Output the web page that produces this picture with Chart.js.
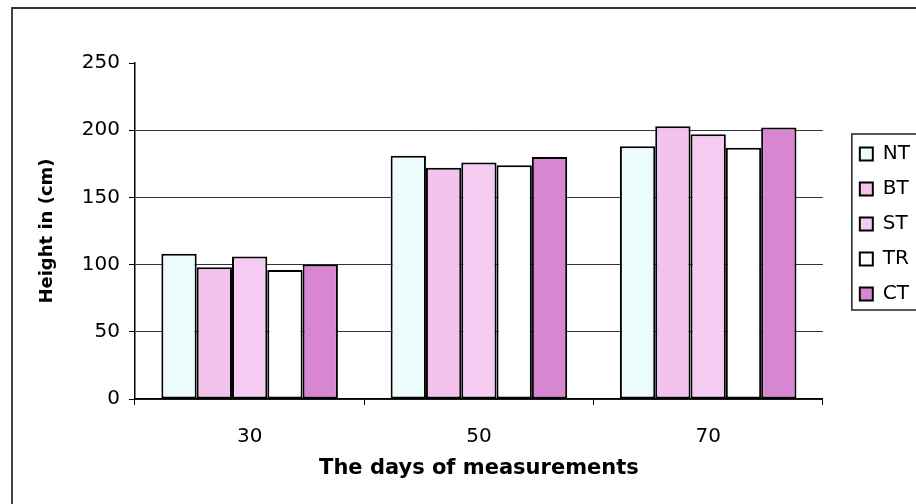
<!DOCTYPE html>
<html>
<head>
<meta charset="utf-8">
<script src="https://cdn.jsdelivr.net/npm/chart.js@4.4.1/dist/chart.umd.min.js"></script>
<style>
	body { margin:0; background:#fff; }
	#wrap { position:relative; width:916px; height:504px; }
	#frame { position:absolute; left:11px; top:7px; right:0; bottom:0; border-top:2px solid #333; border-left:2px solid #444; pointer-events:none; }
</style>
</head>
<body>
<div id="wrap">
	<canvas id="c" width="916" height="504"></canvas>
	<div id="frame"></div>
</div>
<script>
const days = ['30', '50', '70']
const seriesNames = ['NT', 'BT', 'ST', 'TR', 'CT']
const NT = [108, 181, 188]
const BT = [98, 172, 203]
const ST = [106, 176, 197]
const TR = [96, 174, 187]
const CT = [100, 180, 202]
const yTicks = [0, 50, 100, 150, 200, 250]

const fills = ['#ecfcfc', '#f3c3ee', '#f5cbf2', '#ffffff', '#d886d2']
const values = [NT, BT, ST, TR, CT]

// the scanned legend sits a bit away from the plot and lower down, with a box round it
const legendBox = {
	id: 'legendBox',
	afterLayout: c => {
		const l = c.legend
		l.left += 22; l.right += 22
		l.top += 66; l.bottom += 66
	},
	afterDraw: c => {
		const h = c.legend.legendHitBoxes, x = c.ctx
		if (!h || !h.length) return
		const first = h[0], last = h[h.length - 1]
		const top = first.top + first.height / 2 - 20
		const bottom = last.top + last.height / 2 + 16
		x.save()
		x.strokeStyle = '#222'
		x.lineWidth = 1.5
		x.strokeRect(first.left - 8, top, c.width, bottom - top)
		x.restore()
	}
}

new Chart(document.getElementById('c'), {
	type: 'bar',
	data: {
		labels: days,
		datasets: seriesNames.map((n, i) => ({
			label: n,
			data: values[i],
			backgroundColor: fills[i],
			borderColor: '#000',
			borderWidth: 2,
			borderSkipped: false,
			categoryPercentage: 0.77,
			barPercentage: 1,
		}))
	},
	options: {
		responsive: false,
		animation: false,
		devicePixelRatio: 1,
		layout: { padding: { left: 0, top: 63, right: 18, bottom: 0 } },
		plugins: {
			tooltip: { enabled: false },
			legend: {
				position: 'right',
				align: 'start',
				labels: {
					color: '#000',
					boxWidth: 13,
					boxHeight: 13,
					padding: 15,
					font: { family: 'DejaVu Sans', size: 20 },
				}
			}
		},
		scales: {
			x: {
				afterFit: s => { s.height = 105 },
				grid: { drawOnChartArea: false, color: '#000', tickLength: 6, offset: true },
				border: { color: '#000', width: 1.5 },
				ticks: { color: '#000', padding: 20, font: { family: 'DejaVu Sans', size: 20 } },
				title: { display: true, text: 'The days of measurements', color: '#000', padding: { top: 0, bottom: 23 }, font: { family: 'DejaVu Sans', size: 21, weight: 'bold' } }
			},
			y: {
				min: 0,
				max: 250,
				afterFit: s => { s.width = 135 },
				afterBuildTicks: s => { s.ticks = yTicks.map(v => ({ value: v })) },
				grid: { color: ctx => ctx.tick && ctx.tick.value === 250 ? 'rgba(0,0,0,0)' : '#333', tickColor: '#000', tickLength: 6, lineWidth: 1 },
				border: { color: '#000', width: 1.5 },
				ticks: { color: '#000', padding: 9, font: { family: 'DejaVu Sans', size: 20 } },
				title: { display: true, text: 'Height in (cm)', color: '#000', padding: { top: 37, bottom: 0 }, font: { family: 'DejaVu Sans', size: 18, weight: 'bold' } }
			}
		}
	},
	plugins: [legendBox]
})
</script>
</body>
</html>
